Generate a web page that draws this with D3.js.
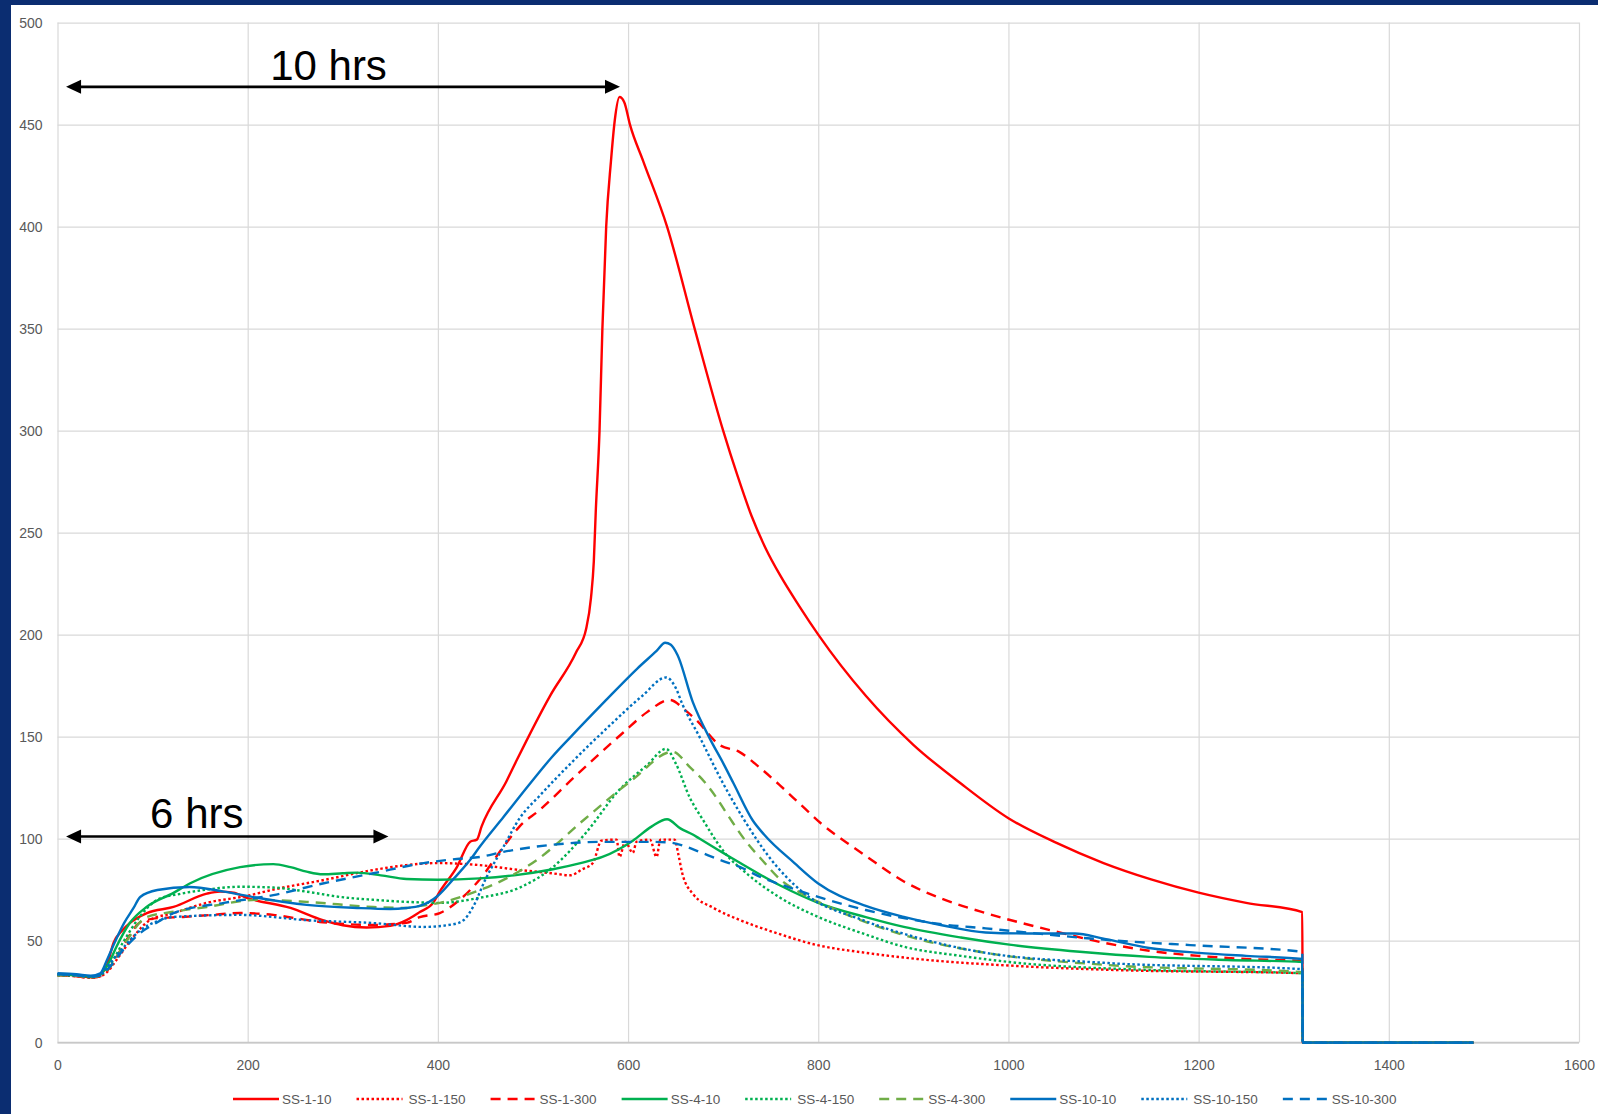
<!DOCTYPE html>
<html>
<head>
<meta charset="utf-8">
<script src="https://cdn.jsdelivr.net/npm/d3@7"></script>
<style>
  html, body { margin: 0; padding: 0; background: #fff; }
  svg { display: block; }
</style>
</head>
<body>
<div id="chart"></div>
<script>
// axis ticks
const xTicks = [0, 200, 400, 600, 800, 1000, 1200, 1400, 1600];
const yTicks = [0, 50, 100, 150, 200, 250, 300, 350, 400, 450, 500];

// series names (legend order = drawing order)
const seriesNames = ["SS-1-10", "SS-1-150", "SS-1-300", "SS-4-10", "SS-4-150", "SS-4-300", "SS-10-10", "SS-10-150", "SS-10-300"];

// [time, value]
const ss1_10 = [[0,33.5],[20,33],[35,32],[45,33.5],[52,38],[59,49],[68,55],[76,58.6],[94,63.5],[122,66.5],[157,73],[171,74],[185,73.5],[199,71],[245,66],[279,60],[300,57.5],[325,56.4],[350,57.2],[367,60],[381,64],[395,68.5],[402,74],[420,86],[434,98.5],[441,99.5],[446,106],[472,128],[483,138.5],[518,170],[545,191],[556,203],[561,218],[564,236],[566,260],[570,300],[573,350],[577,400],[582,432],[586,452],[591,463.5],[596,461],[602,450],[616,432],[641,400],[670,350],[700,300],[715,278],[730,258],[745,242],[760,229],[780,214],[800,200],[850,170],[900,146],[950,127],[1000,110],[1050,98],[1100,88],[1150,80],[1200,73.5],[1250,68.5],[1309,64],[1309.5,0],[1489,0]];
const ss1_150 = [[0,33],[20,32.5],[35,31.8],[45,32.5],[52,34.5],[62,40.5],[80,52],[97,60],[122,63.5],[157,68.5],[200,72],[227,75],[279,79.6],[332,84.6],[367,87],[400,88],[444,87],[486,84.6],[520,83],[539,82],[552,85],[563,88],[572,99],[588,99.5],[591,91],[597,98.5],[605,93],[609,98.5],[623,99.5],[630,91],[634,99.5],[649,99.5],[653,92],[657,83],[668,73],[690,66],[718,60],[754,54],[797,48],[850,44],[904,41],[1011,37.5],[1118,35.5],[1309,34],[1309.5,0],[1489,0]];
const ss1_300 = [[0,33],[20,32.5],[35,31.8],[45,32.5],[52,35],[62,42],[75,52],[87,59],[105,61],[132,61.6],[160,62.5],[192,63.5],[227,62.6],[250,61],[279,59],[332,57.7],[367,58.7],[381,61.5],[402,63.5],[423,70],[444,80],[469,96],[486,106],[507,114],[542,129.5],[595,152],[620,162],[644,168],[660,163],[672,158],[696,146],[717,142.5],[738,135],[760,126],[783,116],[804,107],[830,98],[850,91.5],[890,79],[930,70.5],[976,63.5],[1045,55],[1100,49],[1148,45],[1200,42.5],[1250,41],[1309,40],[1309.5,0],[1489,0]];
const ss4_10 = [[0,33.5],[20,33],[35,32.3],[45,33.5],[55,40],[62,47],[76,58.6],[94,66.6],[122,73.4],[139,78],[192,86],[227,87.5],[245,86],[262,83.8],[279,82.5],[300,83],[315,83.3],[340,82],[367,80.2],[400,79.8],[444,80.5],[480,82],[521,85],[550,88],[573,91],[605,99],[625,106],[641,109.5],[655,105],[668,102],[675,100],[700,93],[718,88],[760,77],[800,68.5],[850,61.5],[890,56.7],[950,51.5],[1001,48],[1075,44.5],[1148,42],[1230,40.5],[1309,39.5],[1309.5,0],[1489,0]];
const ss4_150 = [[0,33],[20,32.8],[35,32],[45,33],[55,38],[70,50],[87,62],[105,70],[130,73],[157,75],[192,76.4],[227,76],[262,74],[297,71.4],[332,70],[367,69],[402,68.5],[444,71],[486,76],[521,86],[556,103],[591,124],[620,136],[640,144],[650,137],[665,120],[679,109],[700,94],[727,82],[760,71],[800,61.6],[850,53],[890,47],[950,42.5],[1001,39.5],[1148,35.6],[1309,34],[1309.5,0],[1489,0]];
const ss4_300 = [[0,33],[20,32.8],[35,32],[45,33],[55,37],[70,48],[94,61.6],[120,64],[157,66.5],[210,70],[262,69],[332,66.5],[367,66],[381,67],[402,68.5],[434,73],[470,80],[504,89.5],[553,109],[605,129],[647,142.6],[665,135],[680,128],[693,120],[707,110],[725,98],[740,90],[760,80],[783,73],[800,69],[826,63.5],[890,52.7],[976,44],[1105,38],[1309,34.5],[1309.5,0],[1489,0]];
const ss10_10 = [[0,34],[20,33.5],[35,32.8],[45,34],[52,40.5],[60,49],[70,58.6],[80,66],[87,71.4],[105,74.8],[139,76.3],[175,74],[210,71],[262,67.5],[315,66],[350,65.5],[367,66],[381,67],[400,72],[416,80],[434,89.6],[444,96],[469,110.6],[497,127],[520,140],[540,150],[575,167],[610,183.5],[630,192],[639,196],[645,195],[652,190],[668,167],[686,149],[700,137],[711,127],[731,109],[743,102],[775,88],[800,78],[850,67],[890,61.6],[930,57.5],[976,54],[1020,53.5],[1045,53.5],[1070,53.5],[1100,51],[1148,46.4],[1200,44],[1250,42.5],[1309,41],[1309.5,0],[1489,0]];
const ss10_150 = [[0,33.5],[20,33],[35,32.3],[45,33],[52,37],[70,47],[87,55],[105,59.5],[122,61.6],[192,62.6],[262,60],[332,58.6],[385,56.7],[416,58],[427,60],[437,66.5],[450,80],[469,96],[486,110],[507,121],[540,137],[582,156],[615,170],[640,179],[650,174],[657,166],[675,150],[700,127],[721,110],[750,90],[783,74],[847,60],[900,52],[976,44],[1105,39],[1309,36],[1309.5,0],[1489,0]];
const ss10_300 = [[0,33.5],[20,33],[35,32.3],[45,33],[52,35.6],[70,46],[87,53.7],[105,59],[122,63.5],[175,68.5],[227,72.3],[279,78],[332,83],[385,88],[420,90],[444,91],[469,93.5],[521,97],[573,98.4],[626,98.4],[645,98],[661,96],[675,93.5],[700,89],[718,86],[740,81],[770,76],[800,71.4],[850,65],[890,61],[930,58],[976,56],[1040,53],[1105,50.3],[1191,47.8],[1309,44.5],[1309.5,0],[1489,0]];

const seriesValues = [ss1_10, ss1_150, ss1_300, ss4_10, ss4_150, ss4_300, ss10_10, ss10_150, ss10_300];

// annotation arrows: label, start, end, arrow level, label centre, label baseline
const annotations = [
  { label: "10 hrs", x0: 9, x1: 591.5, y: 468.5, tx: 285,   ty: 472 },
  { label: "6 hrs",  x0: 9, x1: 348,   y: 101,   tx: 146.5, ty: 105 }
];

// line styles
const RED = "#FF0000", GREEN = "#00B050", LGREEN = "#70AD47", BLUE = "#0070C0";
const DOT = "2.5,2.5", DASH = "10,7";
const styles = [
  { color: RED,    dash: null },
  { color: RED,    dash: DOT },
  { color: RED,    dash: DASH },
  { color: GREEN,  dash: null },
  { color: GREEN,  dash: DOT },
  { color: LGREEN, dash: DASH },
  { color: BLUE,   dash: null },
  { color: BLUE,   dash: DOT },
  { color: BLUE,   dash: DASH }
];

const width = 1598;
const height = 1114;
const plot = { left: 57.5, right: 1579, top: 22.6, bottom: 1042.6 };
const tickFont = "'Liberation Sans', Arial, sans-serif";

const svg = d3.select('#chart')
  .append('svg')
  .attr('width', width)
  .attr('height', height);

// navy frame, white page
svg.append('rect').attr('width', width).attr('height', height).attr('fill', '#0b2d71');
svg.append('rect').attr('x', 11).attr('y', 5).attr('width', width - 11).attr('height', height - 5).attr('fill', '#fff');

const x = d3.scaleLinear().domain([0, 1600]).range([plot.left, plot.right]);
const y = d3.scaleLinear().domain([0, 500]).range([plot.bottom, plot.top]);

// grid + tick labels
const gx = svg.append('g')
  .attr('transform', `translate(0,${plot.bottom})`)
  .call(d3.axisBottom(x).tickValues(xTicks).tickSize(-(plot.bottom - plot.top)).tickPadding(17).tickFormat(d3.format('d')));
const gy = svg.append('g')
  .attr('transform', `translate(${plot.left},0)`)
  .call(d3.axisLeft(y).tickValues(yTicks).tickSize(-(plot.right - plot.left)).tickPadding(15).tickFormat(d3.format('d')));

[gx, gy].forEach(g => {
  g.select('.domain').remove();
  g.selectAll('.tick line').attr('stroke', '#D9D9D9').attr('stroke-width', 1.2);
  g.selectAll('.tick text').attr('fill', '#595959').style('font-family', tickFont).style('font-size', '14px');
});

// axis line at 0
svg.append('line')
  .attr('x1', plot.left).attr('x2', plot.right)
  .attr('y1', y(0)).attr('y2', y(0))
  .attr('stroke', '#C8C8C8').attr('stroke-width', 1.5);

// series
const line = d3.line()
  .x(d => x(d[0]))
  .y(d => y(d[1]))
  .curve(d3.curveMonotoneX);

svg.append('g')
  .selectAll('path')
  .data(seriesValues)
  .join('path')
    .attr('d', d => line(d))
    .attr('fill', 'none')
    .attr('stroke', (d, i) => styles[i].color)
    .attr('stroke-width', 2.4)
    .attr('stroke-dasharray', (d, i) => styles[i].dash)
    .attr('stroke-linejoin', 'round');

// annotations
const ann = svg.append('g');
annotations.forEach(a => {
  const xa = x(a.x0), xb = x(a.x1), ya = y(a.y);
  ann.append('line')
    .attr('x1', xa + 5).attr('x2', xb - 5)
    .attr('y1', ya).attr('y2', ya)
    .attr('stroke', '#000').attr('stroke-width', 2.6);
  ann.append('path')
    .attr('d', `M${xa},${ya} L${xa + 15},${ya - 7} L${xa + 15},${ya + 7} Z`)
    .attr('fill', '#000');
  ann.append('path')
    .attr('d', `M${xb},${ya} L${xb - 15},${ya - 7} L${xb - 15},${ya + 7} Z`)
    .attr('fill', '#000');
  ann.append('text')
    .attr('x', x(a.tx))
    .attr('y', y(a.ty))
    .attr('text-anchor', 'middle')
    .style('font-family', "'Liberation Sans', Arial, sans-serif")
    .style('font-size', '42px')
    .attr('fill', '#000')
    .text(a.label);
});

// legend
const legend = svg.append('g').attr('transform', 'translate(0,1099)');
let lx = 233;
seriesNames.forEach((name, i) => {
  const item = legend.append('g').attr('transform', `translate(${lx},0)`);
  item.append('line')
    .attr('x1', 0).attr('x2', 46)
    .attr('y1', 0).attr('y2', 0)
    .attr('stroke', styles[i].color)
    .attr('stroke-width', 2.4)
    .attr('stroke-dasharray', styles[i].dash);
  const tx = styles[i].dash === DOT ? 52 : 49;
  const t = item.append('text')
    .attr('x', tx)
    .attr('y', 0)
    .attr('dy', '0.35em')
    .attr('fill', '#595959')
    .style('font-family', tickFont)
    .style('font-size', '13.5px')
    .text(name);
  lx += tx + t.node().getComputedTextLength() + 25;
});

svg.node();
</script>
</body>
</html>
